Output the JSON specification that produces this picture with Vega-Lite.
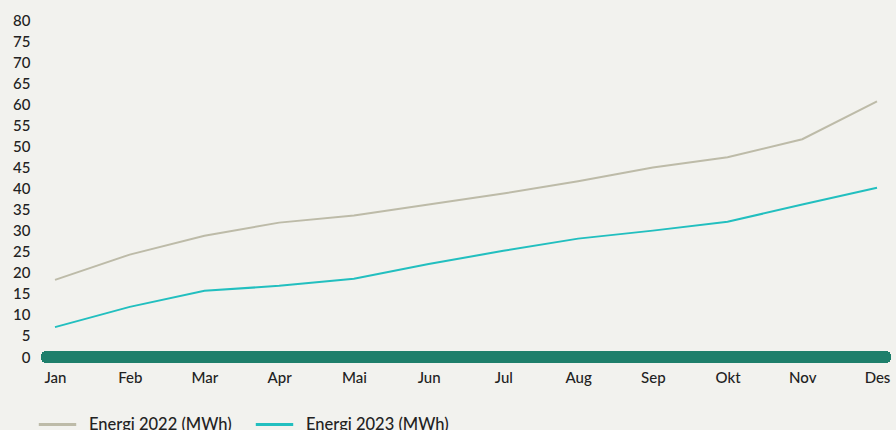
{
  "$schema": "https://vega.github.io/schema/vega-lite/v6.json",
  "autosize": {"type": "none"},
  "width": 838,
  "height": 337,
  "padding": {"left": 47, "top": 20, "right": 11, "bottom": 73},
  "background": "#f2f2ee",
  "config": {
    "view": {"stroke": null},
    "font": "Lato",
    "axis": {"labelFont": "Lato", "labelColor": "#222222", "labelFontSize": 15, "labelFontWeight": 500}
  },
  "data": {
    "values": [
      {"month": "Jan", "series": "Energi 2022 (MWh)", "value": 18.3},
      {"month": "Feb", "series": "Energi 2022 (MWh)", "value": 24.3},
      {"month": "Mar", "series": "Energi 2022 (MWh)", "value": 28.8},
      {"month": "Apr", "series": "Energi 2022 (MWh)", "value": 31.9},
      {"month": "Mai", "series": "Energi 2022 (MWh)", "value": 33.6},
      {"month": "Jun", "series": "Energi 2022 (MWh)", "value": 36.2},
      {"month": "Jul", "series": "Energi 2022 (MWh)", "value": 38.8},
      {"month": "Aug", "series": "Energi 2022 (MWh)", "value": 41.7},
      {"month": "Sep", "series": "Energi 2022 (MWh)", "value": 45.0},
      {"month": "Okt", "series": "Energi 2022 (MWh)", "value": 47.4},
      {"month": "Nov", "series": "Energi 2022 (MWh)", "value": 51.7},
      {"month": "Des", "series": "Energi 2022 (MWh)", "value": 60.7},
      {"month": "Jan", "series": "Energi 2023 (MWh)", "value": 7.1},
      {"month": "Feb", "series": "Energi 2023 (MWh)", "value": 11.9},
      {"month": "Mar", "series": "Energi 2023 (MWh)", "value": 15.7},
      {"month": "Apr", "series": "Energi 2023 (MWh)", "value": 16.9},
      {"month": "Mai", "series": "Energi 2023 (MWh)", "value": 18.6},
      {"month": "Jun", "series": "Energi 2023 (MWh)", "value": 22.1},
      {"month": "Jul", "series": "Energi 2023 (MWh)", "value": 25.2},
      {"month": "Aug", "series": "Energi 2023 (MWh)", "value": 28.1},
      {"month": "Sep", "series": "Energi 2023 (MWh)", "value": 30.0},
      {"month": "Okt", "series": "Energi 2023 (MWh)", "value": 32.1},
      {"month": "Nov", "series": "Energi 2023 (MWh)", "value": 36.2},
      {"month": "Des", "series": "Energi 2023 (MWh)", "value": 40.2}
    ]
  },
  "layer": [
    {
      "mark": {"type": "rule", "color": "#1e7f6b", "strokeWidth": 12, "strokeCap": "round"},
      "encoding": {"y": {"datum": 0, "type": "quantitative", "scale": {"domain": [0, 80]},
        "axis": {"title": null, "domain": false, "ticks": false, "grid": false, "labelOverlap": false, "labelPadding": 17, "values": [0,5,10,15,20,25,30,35,40,45,50,55,60,65,70,75,80]}}}
    },
    {
      "mark": {"type": "line", "strokeWidth": 2},
      "encoding": {
        "x": {
          "field": "month", "type": "ordinal", "sort": null,
          "scale": {"type": "point", "padding": 0.107},
          "axis": {"title": null, "domain": false, "ticks": false, "labelAngle": 0, "labelPadding": 13, "labelColor": "#222222"}
        },
        "y": {
          "field": "value", "type": "quantitative",
          "scale": {"domain": [0, 80]},
          "axis": {"title": null, "domain": false, "ticks": false, "grid": false, "labelOverlap": false, "labelPadding": 17, "values": [0,5,10,15,20,25,30,35,40,45,50,55,60,65,70,75,80]}
        },
        "color": {
          "field": "series", "type": "nominal",
          "scale": {"range": ["#bdbba8", "#22bfbf"]},
          "legend": {
            "title": null, "orient": "none", "legendX": -10, "legendY": 384,
            "direction": "horizontal", "symbolType": "stroke", "symbolSize": 1400, "symbolStrokeWidth": 3,
            "labelFont": "Lato", "labelFontSize": 16.5, "labelFontWeight": 500, "labelColor": "#222222",
            "columnPadding": 17, "labelOffset": 11
          }
        }
      }
    }
  ]
}
